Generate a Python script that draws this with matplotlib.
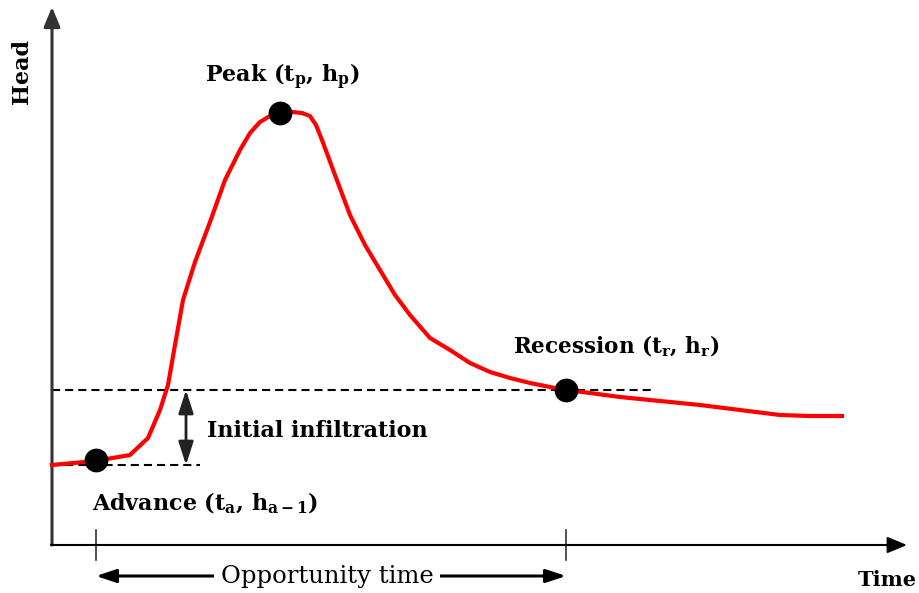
import matplotlib
matplotlib.use("Agg")
import matplotlib.pyplot as plt
import numpy as np

# Schematic data (time, head) in drawing units (origin at axis corner)
time = [0, 43, 78, 96, 108, 116, 123, 131, 143, 158, 173, 188, 198, 208, 218, 228,
        240, 250, 258, 264, 270, 283, 298, 313, 328, 343, 358, 378, 398, 418, 438, 458,
        478, 498, 514, 538, 568, 608, 648, 688, 728, 758, 790]
head = [80, 84, 90, 107, 135, 160, 200, 245, 283, 323, 365, 395, 412, 423, 429, 432,
        433, 432, 429, 420, 405, 370, 330, 300, 275, 250, 230, 207, 195, 182, 173, 167,
        162, 158, 155, 152, 148, 144, 140, 135, 130, 129, 129]

pts_t = [44, 228, 514]          # advance, peak, recession
pts_h = [85, 432, 155]
pt_labels = [r"Advance ($\mathbf{t_a}$, $\mathbf{h_{a-1}}$)",
             r"Peak ($\mathbf{t_p}$, $\mathbf{h_p}$)",
             r"Recession ($\mathbf{t_r}$, $\mathbf{h_r}$)"]

plt.rcParams["mathtext.fontset"] = "dejavuserif"
fig = plt.figure(figsize=(9.2, 5.93), dpi=100)
ax = fig.add_axes([0, 0, 1, 1])
ox, oy = 52, 48  # axis corner in figure px (from bottom)
ax.set_xlim(-ox, 920 - ox)
ax.set_ylim(-oy, 593 - oy)
ax.axis("off")

font = dict(family="DejaVu Serif", weight="bold", color="black")

# axes arrows
ax.annotate("", xy=(0, 590 - oy - 4), xytext=(0, 0),
            arrowprops=dict(arrowstyle="-|>,head_length=1.2,head_width=0.5", color="#333333", lw=2.2, shrinkA=0, shrinkB=0))
ax.annotate("", xy=(855, 0), xytext=(-1, 0),
            arrowprops=dict(arrowstyle="-|>,head_length=1.2,head_width=0.5", color="black", lw=1.5, shrinkA=0, shrinkB=0))

# dashed reference lines
ax.plot([0, 603], [pts_h[2], pts_h[2]], ls=(0, (3.9, 2.4)), color="black", lw=1.5)
ax.plot([0, 148], [pts_h[0] - 5, pts_h[0] - 5], ls=(0, (3.9, 2.4)), color="black", lw=1.5)

# curve
ax.plot(time, head, color="#ff0000", lw=3, solid_joinstyle="round", zorder=3)
ax.scatter(pts_t, pts_h, s=260, color="black", zorder=4)

# infiltration double arrow
ax.annotate("", xy=(134, pts_h[2]), xytext=(134, pts_h[0] - 5),
            arrowprops=dict(arrowstyle="<|-|>,head_length=1.4,head_width=0.45", color="#222222", lw=2, shrinkA=0, shrinkB=0))
ax.text(155, 114, "Initial infiltration", fontsize=16, va="center", ha="left", **font)

# labels
ax.text(40, 42, pt_labels[0], fontsize=16, va="center", ha="left", **font)
ax.text(153, 468, pt_labels[1], fontsize=16, va="center", ha="left", **font)
ax.text(461, 199, pt_labels[2], fontsize=15.5, va="center", ha="left", **font)

ax.text(-30, 474, "Head", rotation=90, fontsize=16, va="center", ha="center", **font)
ax.text(835, -35, "Time", fontsize=15, va="center", ha="center", **font)

# opportunity time ticks and arrow
for t in [pts_t[0], pts_t[2]]:
    ax.plot([t, t], [15, -15], color="#333333", lw=1.2)
ax.annotate("", xy=(pts_t[0], -31), xytext=(pts_t[2], -31),
            arrowprops=dict(arrowstyle="<|-|>,head_length=1.2,head_width=0.4", color="black", lw=2.2, shrinkA=0, shrinkB=0))
ax.text((pts_t[0] + pts_t[2]) / 2 - 4, -31, "Opportunity time", fontsize=17.5, va="center", ha="center",
        family="DejaVu Serif", color="black",
        bbox=dict(facecolor="white", edgecolor="none", pad=5))

fig.savefig("out.png", dpi=100)
